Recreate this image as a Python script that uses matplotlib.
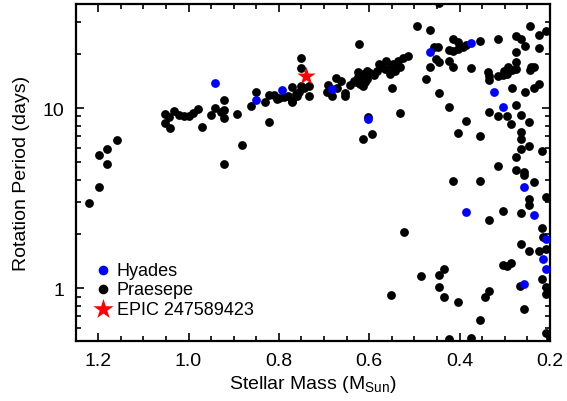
import matplotlib
matplotlib.use('Agg')
import numpy as np
import matplotlib.pyplot as plt

plt.rcParams['font.family'] = ['Liberation Sans', 'DejaVu Sans']
plt.rcParams['mathtext.fontset'] = 'custom'
plt.rcParams['mathtext.rm'] = 'Liberation Sans'
plt.rcParams['mathtext.it'] = 'Liberation Sans'

# Praesepe: stellar mass (Msun), rotation period (days)
praesepe_mass = [
    1.22, 1.199, 1.199, 1.18, 1.18, 1.159,
    1.051, 1.051, 1.04, 1.043, 1.031, 1.02, 1.009, 0.998, 0.991, 0.98, 0.971,
    0.95, 0.941, 0.928, 0.921, 0.921, 0.921, 0.921,
    0.623, 0.752, 0.752, 0.851, 0.861, 0.892, 0.881, 0.831, 0.822, 0.822,
    0.811, 0.8, 0.789, 0.78, 0.772, 0.772, 0.763, 0.756, 0.752, 0.745, 0.733,
    0.733, 0.76, 0.804, 0.772,
    0.692, 0.694, 0.683, 0.674, 0.663, 0.672, 0.654, 0.654, 0.642, 0.633,
    0.624, 0.624, 0.613, 0.613, 0.606, 0.606, 0.617, 0.602, 0.613, 0.593,
    0.584, 0.573, 0.563, 0.551, 0.549, 0.555, 0.547, 0.536, 0.525, 0.514,
    0.544, 0.533, 0.533, 0.524, 0.553, 0.63, 0.61, 0.62, 0.598, 0.59, 0.578,
    0.565,
    0.445, 0.494, 0.465, 0.448, 0.456, 0.452, 0.445, 0.465, 0.474, 0.445,
    0.423, 0.415, 0.404, 0.424, 0.414, 0.403, 0.393, 0.386, 0.355, 0.424,
    0.414, 0.375, 0.385, 0.404, 0.355, 0.315, 0.276, 0.265, 0.245, 0.225,
    0.208, 0.256, 0.276, 0.225, 0.276, 0.276, 0.294, 0.302, 0.338, 0.336,
    0.336, 0.316, 0.305, 0.296, 0.284, 0.243, 0.236, 0.245, 0.225, 0.236,
    0.256, 0.285, 0.276, 0.335, 0.315, 0.296, 0.286, 0.265, 0.246, 0.265,
    0.265, 0.246, 0.265, 0.218, 0.276, 0.276, 0.315, 0.258, 0.258, 0.236,
    0.414, 0.355, 0.246, 0.246, 0.21, 0.305, 0.265, 0.335, 0.218, 0.215,
    0.265, 0.246, 0.225, 0.21, 0.305, 0.296, 0.286, 0.434, 0.445, 0.485,
    0.445, 0.434, 0.404, 0.344, 0.335, 0.267, 0.218, 0.21, 0.257, 0.355,
    0.21, 0.21, 0.424, 0.375, 0.2,
]
praesepe_period = [
    2.96, 3.67, 5.48, 5.91, 4.91, 6.64,
    9.3, 8.22, 7.78, 8.88, 9.66, 9.14, 8.99, 9.06, 9.34, 9.87, 7.84,
    9.14, 10.04, 9.46, 11.1, 9.75, 8.83, 4.91,
    22.7, 18.9, 16.6, 12.3, 10.3, 9.3, 6.22, 10.75, 8.39, 11.86,
    11.8, 11.3, 11.5, 11.6, 10.98, 13.1, 11.96, 12.2, 13.2, 13.0, 13.2,
    11.7, 11.7, 11.2, 10.8,
    13.4, 12.2, 11.7, 14.7, 14.2, 12.9, 12.1, 11.7, 13.4, 14.2,
    14.8, 15.8, 15.4, 13.3, 16.1, 14.5, 14.2, 8.88, 6.73, 7.17,
    16.1, 16.8, 18.3, 17.0, 13.0, 15.4, 17.6, 18.3, 18.9, 19.4,
    16.1, 17.0, 9.38, 2.04, 0.914, 13.9, 14.0, 13.6, 15.7, 15.3, 17.5,
    16.5,
    38.5, 28.6, 27.2, 21.7, 21.7, 18.7, 18.0, 16.8, 14.5, 12.1,
    10.1, 24.2, 23.3, 21.1, 20.6, 21.3, 21.9, 22.4, 23.7, 18.3,
    17.0, 16.6, 8.5, 7.3, 6.97, 24.2, 25.2, 24.2, 28.6, 25.5,
    26.6, 22.0, 20.4, 21.5, 18.1, 16.5, 17.0, 16.1, 15.9, 15.0,
    14.4, 15.1, 15.2, 15.4, 16.3, 17.0, 16.8, 16.3, 13.6, 13.0,
    12.3, 13.0, 10.4, 9.46, 8.99, 9.06, 8.15, 9.18, 8.33, 7.38,
    6.73, 6.18, 5.92, 5.8, 5.37, 4.54, 4.74, 4.39, 4.26, 3.9,
    3.94, 3.94, 3.12, 2.9, 3.19, 2.69, 2.61, 2.39, 2.15, 1.92,
    1.76, 1.61, 1.61, 1.65, 1.34, 1.33, 1.38, 1.28, 1.18, 1.17,
    1.02, 0.9, 0.84, 0.9, 0.966, 1.03, 1.12, 1.02, 0.77, 0.67,
    0.93, 0.568, 0.52, 0.53, 0.53,
]

# Hyades
hyades_mass = [0.941, 0.851, 0.793, 0.683, 0.602, 0.465, 0.375, 0.325,
               0.305, 0.257, 0.385, 0.236, 0.208, 0.216, 0.208, 0.257]
hyades_period = [13.8, 11.1, 12.6, 12.8, 8.69, 20.5, 23.0, 12.2,
                 10.1, 3.66, 2.66, 2.55, 1.88, 1.45, 1.28, 1.05]

# EPIC 247589423
epic_mass = [0.741]
epic_period = [15.0]

fig = plt.figure(figsize=(5.67, 4.02), dpi=100)
ax = fig.add_axes([0.1332, 0.1493, 0.8369, 0.8383])

ax.scatter(praesepe_mass, praesepe_period, s=40, color='black', lw=0,
           label='Praesepe', zorder=2)
ax.scatter(hyades_mass, hyades_period, s=40, color='#0000ff', lw=0,
           label='Hyades', zorder=3)
ax.scatter(epic_mass, epic_period, s=190, marker='*', color='red', lw=0,
           label='EPIC 247589423', zorder=4)

ax.set_yscale('log')
ax.set_xlim(1.25, 0.2)
ax.set_ylim(0.51, 37.8)
ax.set_xticks([1.2, 1.0, 0.8, 0.6, 0.4, 0.2])
ax.set_xticklabels(['1.2', '1.0', '0.8', '0.6', '0.4', '0.2'])
ax.set_xticks(np.arange(0.25, 1.25, 0.05), minor=True)
ax.set_yticks([1, 10])
ax.set_yticklabels(['1', '10'])
ax.yaxis.set_minor_formatter(matplotlib.ticker.NullFormatter())

ax.tick_params(which='both', direction='in', top=True, right=True,
               labelsize=14, width=1.2, pad=8)
ax.tick_params(which='major', length=6)
ax.tick_params(which='minor', length=3.5)
for sp in ax.spines.values():
    sp.set_linewidth(1.6)

ax.set_xlabel('Stellar Mass (M$_{\\mathrm{Sun}}$)', fontsize=14, labelpad=3)
ax.set_ylabel('Rotation Period (days)', fontsize=14, labelpad=9)

h, l = ax.get_legend_handles_labels()
order = [1, 0, 2]
ax.legend([h[i] for i in order], [l[i] for i in order], frameon=False,
          loc='lower left', bbox_to_anchor=(0.028, 0.047), fontsize=13,
          handlelength=0.8, handletextpad=0.35, labelspacing=0.15,
          borderaxespad=0, scatterpoints=1, markerscale=1.1)

fig.savefig('out.png', dpi=100)
